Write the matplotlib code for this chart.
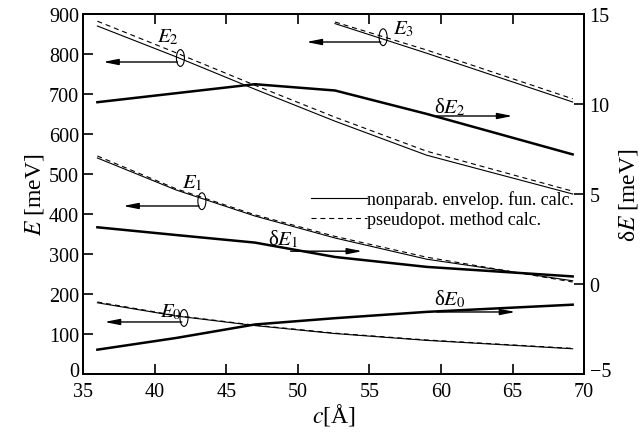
import matplotlib
matplotlib.use('Agg')
import matplotlib.pyplot as plt
from matplotlib.patches import Ellipse
from matplotlib.lines import Line2D
from matplotlib.transforms import ScaledTranslation

plt.rcParams['font.family'] = ['Liberation Serif', 'DejaVu Serif']
plt.rcParams['mathtext.fontset'] = 'stix'

# thickness c [A]
c = [36, 41.5, 47, 52.6, 59, 69.2]
c3 = [52.6, 59, 69.2]

# energies [meV]: nonparabolic envelope function / pseudopotential
E0_np = [178, 145, 121, 101, 84, 63]
E0_ps = [180, 146, 122, 102, 85, 64]
E1_np = [540, 460, 395, 340, 287, 233]
E1_ps = [545, 463, 398, 344, 292, 230]
E2_np = [870, 793, 712, 632, 547, 450]
E2_ps = [882, 803, 722, 642, 557, 457]
E3_np = [876, 802, 680]
E3_ps = [880, 810, 688]

# differences dE [meV] (right axis)
dE0 = [-3.65, -3.0, -2.25, -1.9, -1.55, -1.15]
dE1 = [3.15, 2.72, 2.3, 1.5, 0.95, 0.42]
dE2 = [10.1, 10.6, 11.1, 10.75, 9.45, 7.2]

fig = plt.figure(figsize=(6.44, 4.35), dpi=100)
ax = fig.add_axes([0.129, 0.138, 0.778, 0.8275])
ax2 = ax.twinx()

dash = (4.5, 3.5)
thin = dict(color='black', lw=0.8)
for cc, a, b in [(c, E0_np, E0_ps), (c, E1_np, E1_ps), (c, E2_np, E2_ps), (c3, E3_np, E3_ps)]:
    ax.plot(cc, a, '-', **thin)
    ax.plot(cc, b, '--', dashes=dash, **thin)

for d in [dE0, dE1, dE2]:
    ax2.plot(c, d, '-', color='black', lw=1.8)

ax.set_xlim(35, 70)
ax.set_ylim(0, 900)
ax.set_yticks(range(0, 901, 100))
ax.set_xticks(range(35, 71, 5))
ax2.set_ylim(-5, 15)
ax2.set_yticks([-5, 0, 5, 10, 15])

ax.tick_params(direction='in', top=True, right=False, length=7, width=1.2, labelsize=14.5, pad=3)
ax.tick_params(axis='x', pad=6)
ax2.tick_params(direction='in', length=7, width=1.2, labelsize=14.5, pad=4)
for a in (ax, ax2):
    for s in a.spines.values():
        s.set_linewidth(1.4)

# lift the lowest y tick labels a little so they clear the x labels
fig.canvas.draw()
up = ScaledTranslation(0, 5 / 100, fig.dpi_scale_trans)
for lab in (ax.get_yticklabels()[0], ax2.get_yticklabels()[0]):
    lab.set_transform(lab.get_transform() + up)

ax.set_xlabel('$c$[Å]', fontsize=17, labelpad=0)
ax.set_ylabel('$E$ [meV]', fontsize=17, labelpad=2)
ax2.set_ylabel('δ$E$ [meV]', fontsize=17, labelpad=4)

arrow = dict(arrowstyle='-|>,head_length=0.9,head_width=0.18', color='black', lw=1.0,
             shrinkA=0, shrinkB=0)

# labels, ellipses and arrows pointing to the axis used
lbl = dict(fontsize=15, ha='center', va='center')
ax.text(40.9, 845, '$E_2$', **lbl)
ax.add_patch(Ellipse((41.8, 790), 0.56, 42, fill=False, lw=0.8))
ax.annotate('', xy=(36.4, 780), xytext=(41.6, 780), arrowprops=arrow)

ax.text(57.4, 865, '$E_3$', **lbl)
ax.add_patch(Ellipse((55.96, 842), 0.56, 42, fill=False, lw=0.8))
ax.annotate('', xy=(50.6, 830), xytext=(55.8, 830), arrowprops=arrow)

ax.text(42.6, 480, '$E_1$', **lbl)
ax.add_patch(Ellipse((43.3, 432), 0.56, 42, fill=False, lw=0.8))
ax.annotate('', xy=(37.8, 420), xytext=(43.1, 420), arrowprops=arrow)

ax.text(41.1, 157, '$E_0$', **lbl)
ax.add_patch(Ellipse((42.05, 140), 0.56, 42, fill=False, lw=0.8))
ax.annotate('', xy=(36.5, 130), xytext=(41.9, 130), arrowprops=arrow)

ax.text(60.6, 670, 'δ$E_2$', **lbl)
ax.annotate('', xy=(65.0, 645), xytext=(59.7, 645), arrowprops=arrow)
ax.text(49.0, 338, 'δ$E_1$', **lbl)
ax.annotate('', xy=(54.5, 307), xytext=(49.5, 307), arrowprops=arrow)
ax.text(60.6, 190, 'δ$E_0$', **lbl)
ax.annotate('', xy=(65.2, 155), xytext=(59.7, 155), arrowprops=arrow)

handles = [Line2D([], [], color='black', lw=0.8),
           Line2D([], [], color='black', lw=0.8, ls='--', dashes=dash)]
ax.legend(handles, ['nonparab. envelop. fun. calc.', 'pseudopot. method calc.'],
          loc='upper left', bbox_to_anchor=(0.455, 0.51), frameon=False,
          fontsize=12.9, handlelength=3.1, handletextpad=0.0, labelspacing=0.15,
          borderpad=0, borderaxespad=0)

fig.savefig('out.png', dpi=100)
